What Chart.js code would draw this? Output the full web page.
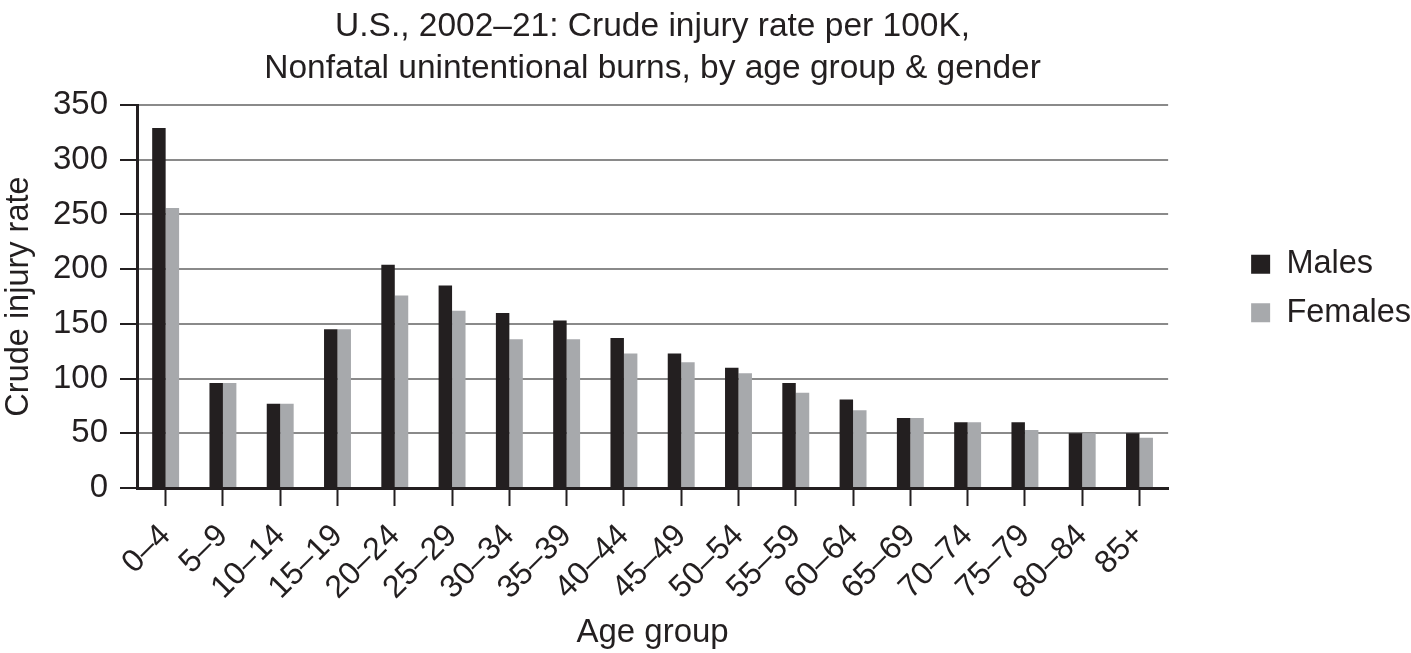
<!DOCTYPE html>
<html>
<head>
<meta charset="utf-8">
<script src="https://cdn.jsdelivr.net/npm/chart.js@4.4.1/dist/chart.umd.min.js"></script>
<style>
  html, body { margin: 0; padding: 0; background: #ffffff; }
  #wrap { width: 1411px; height: 653px; position: relative; }
</style>
</head>
<body>
<div id="wrap"><canvas id="c"></canvas></div>
<script>
const titleLines = ['U.S., 2002\u201321: Crude injury rate per 100K,', 'Nonfatal unintentional burns, by age group & gender'];
const ageGroups = ['0\u20134', '5\u20139', '10\u201314', '15\u201319', '20\u201324', '25\u201329', '30\u201334', '35\u201339', '40\u201344', '45\u201349', '50\u201354', '55\u201359', '60\u201364', '65\u201369', '70\u201374', '75\u201379', '80\u201384', '85+'];
const males = [329, 96, 77, 145, 204, 185, 160, 153, 137, 123, 110, 96, 81, 64, 60, 60, 50, 50];
const females = [256, 96, 77, 145, 176, 162, 136, 136, 123, 115, 105, 87, 71, 64, 60, 53, 50, 46];
const yTicks = [0, 50, 100, 150, 200, 250, 300, 350];
const seriesNames = ['Males', 'Females'];
const xTitle = 'Age group';
const yTitle = 'Crude injury rate';

const INK = '#231f20';
const FEMALE = '#a7a9ac';
const GRID = '#8a8a8a';

Chart.defaults.font.family = '"Liberation Sans", Arial, Helvetica, sans-serif';
Chart.defaults.color = INK;

const legendNudge = {
  id: 'legendNudge',
  afterLayout(chart) {
    if (chart.legend) {
      chart.legend.top -= 8;
      chart.legend.bottom -= 8;
    }
  }
};

new Chart(document.getElementById('c'), {
  type: 'bar',
  data: {
    labels: ageGroups,
    datasets: [
      { label: seriesNames[0], data: males, backgroundColor: INK, borderWidth: 0,
        categoryPercentage: 0.47, barPercentage: 1.0 },
      { label: seriesNames[1], data: females, backgroundColor: FEMALE, borderWidth: 0,
        categoryPercentage: 0.47, barPercentage: 1.0 }
    ]
  },
  plugins: [legendNudge],
  options: {
    responsive: true,
    maintainAspectRatio: false,
    animation: false,
    layout: { padding: { left: 0, right: -10, top: 0, bottom: 0 } },
    plugins: {
      title: {
        display: true,
        text: titleLines,
        fullSize: false,
        color: INK,
        font: { size: 33.5, weight: 'normal', lineHeight: 1.27 },
        padding: { top: 5, bottom: 15 }
      },
      legend: {
        display: true,
        position: 'right',
        fullSize: false,
        align: 'center',
        labels: {
          boxWidth: 19,
          boxHeight: 19,
          padding: 16,
          color: INK,
          font: { size: 32.5 }
        }
      },
      tooltip: { enabled: false }
    },
    scales: {
      x: {
        offset: true,
        afterFit: (s) => { s.height = 165; },
        grid: {
          offset: false,
          drawOnChartArea: false,
          drawTicks: true,
          tickLength: 18,
          tickColor: INK,
          tickWidth: 2
        },
        border: { display: true, color: INK, width: 3 },
        ticks: {
          autoSkip: false,
          maxRotation: 45,
          minRotation: 45,
          padding: 11,
          color: INK,
          font: { size: 32 }
        },
        title: {
          display: true,
          text: xTitle,
          color: INK,
          font: { size: 33 },
          padding: { top: 0, bottom: 0 }
        }
      },
      y: {
        min: 0,
        max: 350,
        afterFit: (s) => { s.width = 137; },
        afterBuildTicks: (s) => { s.ticks = yTicks.map(v => ({ value: v })); },
        grid: {
          color: GRID,
          lineWidth: 2,
          drawTicks: true,
          tickLength: 17,
          tickColor: INK,
          tickWidth: 2
        },
        border: { display: true, color: INK, width: 3 },
        ticks: {
          padding: 12,
          color: INK,
          font: { size: 33 }
        },
        title: {
          display: true,
          text: yTitle,
          color: INK,
          font: { size: 32.5 },
          padding: { top: 0, bottom: 0 }
        }
      },
      yRightGap: {
        position: 'right',
        display: true,
        afterFit: (s) => { s.width = 67; },
        grid: { display: false, drawOnChartArea: false },
        border: { display: false },
        ticks: { display: false }
      }
    }
  }
});
</script>
</body>
</html>
